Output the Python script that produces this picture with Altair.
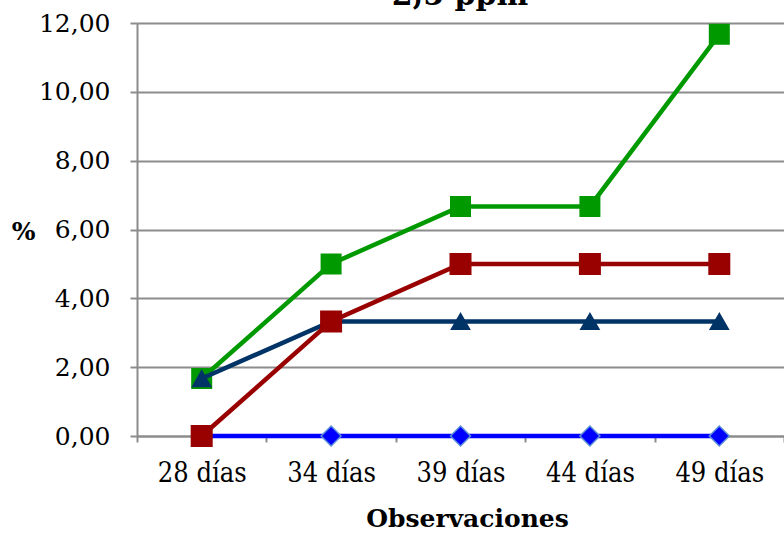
import altair as alt
import pandas as pd

# Observation days and the percentage recorded for each series
days = ["28 días", "34 días", "39 días", "44 días", "49 días"]
blue_diamond = [0.00, 0.00, 0.00, 0.00, 0.00]
red_square = [0.00, 3.33, 5.00, 5.00, 5.00]
navy_triangle = [1.67, 3.33, 3.33, 3.33, 3.33]
green_square = [1.67, 5.00, 6.67, 6.67, 11.67]
chart_title = ["2,5 ppm"]

FONT = "DejaVu Serif"
GRID = "#8c8c8c"

# drawing order: bottom to top
series = [
    ("s1", blue_diamond, "#0000ff", "diamond", "#5b8fd6", 400),
    ("s4", green_square, "#009900", "square", "#009900", 380),
    ("s3", navy_triangle, "#003366", "triangle-up", "#003366", 330),
    ("s2", red_square, "#990000", "square", "#990000", 420),
]

x_enc = alt.X(
    "day:N",
    sort=days,
    scale=alt.Scale(type="band", paddingInner=0, paddingOuter=0),
    bandPosition=0.5,
    axis=alt.Axis(
        title="Observaciones",
        titleFont=FONT,
        titleFontSize=25,
        titleFontWeight="bold",
        titleColor="black",
        titlePadding=20,
        titleX=330,
        labelFont="DejaVu Serif Condensed",
        labelFontSize=27,
        labelColor="black",
        labelAngle=0,
        labelPadding=18,
        tickBand="extent",
        tickSize=6,
        tickColor=GRID,
        tickWidth=2,
        domainColor=GRID,
        domainWidth=2,
        grid=False,
    ),
)

y_enc = alt.Y(
    "value:Q",
    scale=alt.Scale(domain=[0, 12], nice=False, zero=True),
    axis=alt.Axis(
        values=[0, 2, 4, 6, 8, 10, 12],
        labelExpr="replace(format(datum.value, '.2f'), '.', ',')",
        labelFont=FONT,
        labelFontSize=25,
        labelColor="black",
        labelPadding=20,
        tickSize=7,
        tickColor=GRID,
        tickWidth=2,
        domainColor=GRID,
        domainWidth=2,
        grid=True,
        gridColor=GRID,
        gridWidth=2,
        title="%",
        titleFont=FONT,
        titleFontSize=25,
        titleFontWeight="bold",
        titleColor="black",
        titleAngle=0,
        titleAlign="center",
        titleBaseline="middle",
        titleX=-114,
        titleY=208,
    ),
)

layers = []
for name, values, color, shape, edge, size in series:
    df = pd.DataFrame({"day": days, "value": values, "series": name})
    base = alt.Chart(df)
    line = base.mark_line(color=color, strokeWidth=4.5).encode(x=x_enc, y=y_enc)
    pts = base.mark_point(
        shape=shape,
        filled=True,
        fill=color,
        stroke=edge,
        strokeWidth=1.5,
        size=size,
        opacity=1,
    ).encode(x=x_enc, y=y_enc)
    layers += [line, pts]

# chart heading, partly running off the top edge
heading = (
    alt.Chart(pd.DataFrame({"t": chart_title}))
    .mark_text(
        font=FONT,
        fontSize=30,
        fontWeight="bold",
        color="black",
        align="center",
        baseline="alphabetic",
    )
    .encode(text="t:N", x=alt.value(323), y=alt.value(-18))
)
layers.append(heading)

chart = (
    alt.layer(*layers)
    .properties(
        width=647,
        height=413,
        padding={"left": 137, "top": 23, "right": 0, "bottom": 99},
        autosize=alt.AutoSizeParams(type="none"),
        background="white",
    )
    .configure_view(strokeWidth=0)
)

chart.save("out.html", embed_options={"renderer": "svg", "actions": False})
